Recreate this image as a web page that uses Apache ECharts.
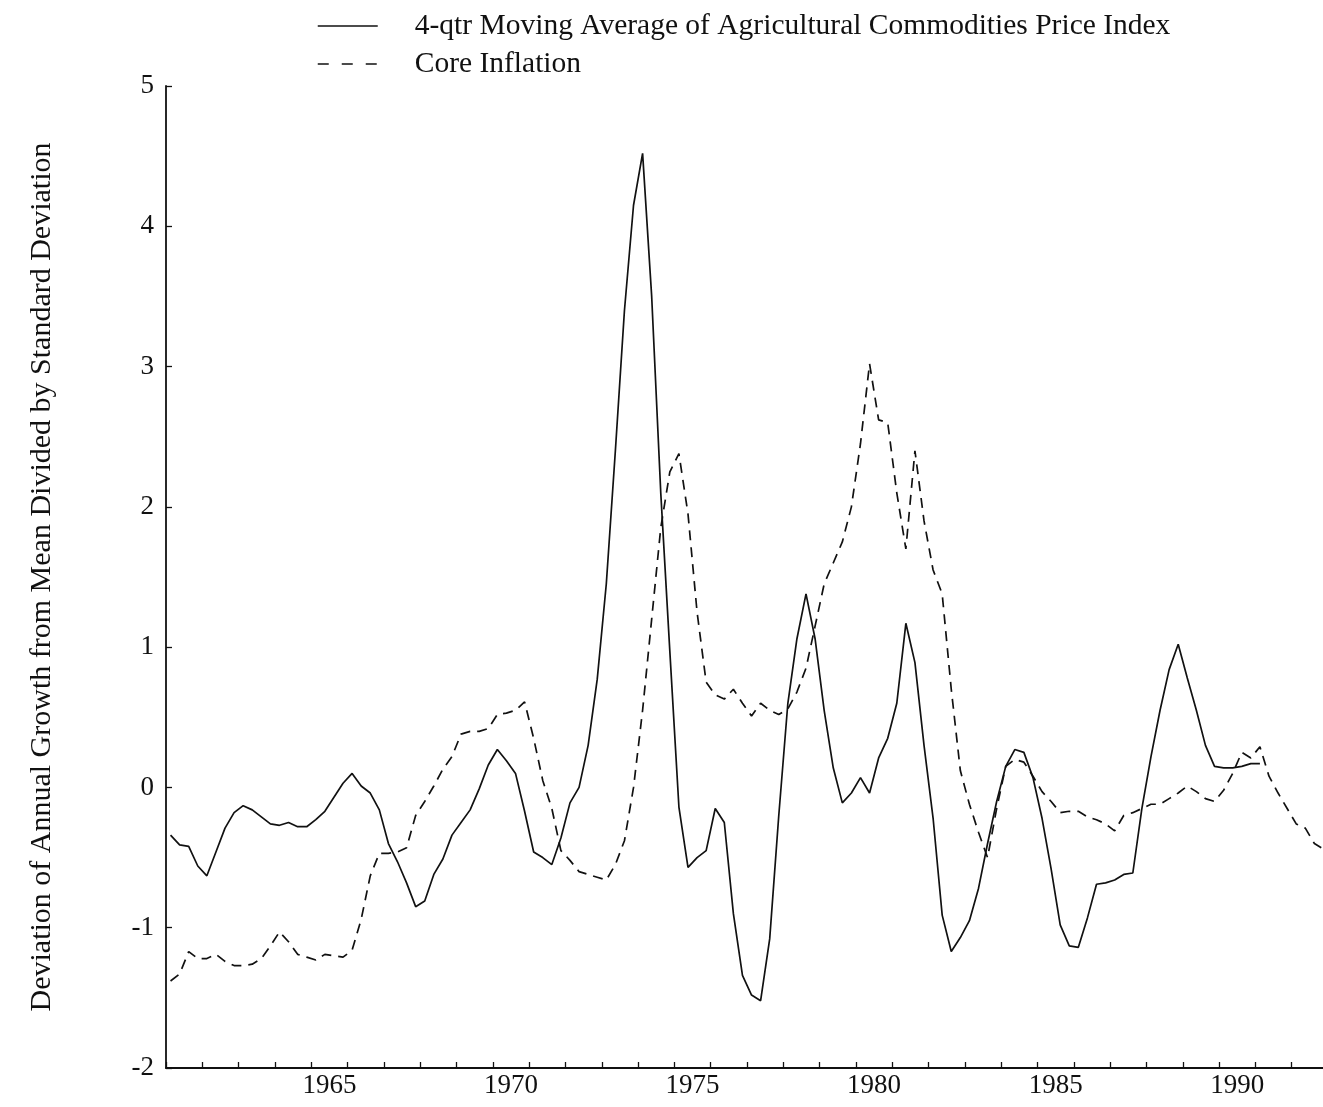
<!DOCTYPE html>
<html>
<head>
<meta charset="utf-8">
<script src="https://cdn.jsdelivr.net/npm/echarts@6/dist/echarts.min.js"></script>
<style>
  html, body { margin: 0; padding: 0; background: #ffffff; }
  #chart { width: 1323px; height: 1107px; }
</style>
</head>
<body>
<div id="chart"></div>
<script>
// Year bands along the horizontal axis (labels shown every five years)
const years = [1961, 1962, 1963, 1964, 1965, 1966, 1967, 1968, 1969, 1970,
  1971, 1972, 1973, 1974, 1975, 1976, 1977, 1978, 1979, 1980,
  1981, 1982, 1983, 1984, 1985, 1986, 1987, 1988, 1989, 1990, 1991, 1992];

// Quarterly observations start in 1961 Q1
const firstYear = 1961;

// 4-quarter moving average of agricultural commodities price index (standardized)
const agriMA = [
  -0.34, -0.41, -0.42, -0.56, -0.63, -0.46, -0.29, -0.18,
  -0.13, -0.16, -0.21, -0.26, -0.27, -0.25, -0.28, -0.28,
  -0.23, -0.17, -0.07, 0.03, 0.10, 0.01, -0.04, -0.16,
  -0.40, -0.53, -0.68, -0.85, -0.81, -0.62, -0.51, -0.34,
  -0.25, -0.16, -0.01, 0.16, 0.27, 0.19, 0.10, -0.17,
  -0.46, -0.50, -0.55, -0.36, -0.11, 0.00, 0.30, 0.77,
  1.45, 2.40, 3.40, 4.15, 4.52, 3.50, 2.10, 0.97,
  -0.14, -0.57, -0.50, -0.45, -0.15, -0.25, -0.90, -1.34,
  -1.48, -1.52, -1.08, -0.20, 0.60, 1.06, 1.38, 1.06,
  0.55, 0.14, -0.11, -0.04, 0.07, -0.04, 0.21, 0.35,
  0.60, 1.17, 0.89, 0.30, -0.22, -0.91, -1.17, -1.07,
  -0.95, -0.72, -0.40, -0.10, 0.15, 0.27, 0.25, 0.07,
  -0.22, -0.58, -0.98, -1.13, -1.14, -0.93, -0.69, -0.68,
  -0.66, -0.62, -0.61, -0.15, 0.22, 0.55, 0.84, 1.02,
  0.78, 0.55, 0.30, 0.15, 0.14, 0.14, 0.15, 0.17,
  0.17
];

// Core inflation (standardized)
const coreInflation = [
  -1.38, -1.33, -1.17, -1.22, -1.22, -1.19, -1.24, -1.27,
  -1.27, -1.26, -1.22, -1.13, -1.03, -1.10, -1.19, -1.21,
  -1.23, -1.19, -1.20, -1.21, -1.16, -0.94, -0.63, -0.47,
  -0.47, -0.46, -0.43, -0.20, -0.10, 0.01, 0.13, 0.22,
  0.38, 0.40, 0.40, 0.42, 0.52, 0.53, 0.55, 0.61,
  0.35, 0.05, -0.15, -0.45, -0.52, -0.60, -0.62, -0.64,
  -0.66, -0.55, -0.38, 0.00, 0.55, 1.20, 1.85, 2.25,
  2.38, 1.95, 1.25, 0.75, 0.66, 0.63, 0.70, 0.60,
  0.51, 0.60, 0.55, 0.52, 0.56, 0.68, 0.85, 1.15,
  1.45, 1.60, 1.75, 2.00, 2.45, 3.02, 2.62, 2.60,
  2.10, 1.70, 2.40, 1.90, 1.55, 1.38, 0.70, 0.12,
  -0.12, -0.32, -0.50, -0.15, 0.15, 0.20, 0.18, 0.08,
  -0.03, -0.10, -0.18, -0.17, -0.17, -0.21, -0.23, -0.26,
  -0.31, -0.20, -0.18, -0.15, -0.12, -0.12, -0.08, -0.04,
  0.01, -0.03, -0.08, -0.10, -0.02, 0.10, 0.25, 0.21,
  0.29, 0.08, -0.04, -0.15, -0.26, -0.29, -0.40, -0.44
];

const seriesNames = [
  '4-qtr Moving Average of Agricultural Commodities Price Index',
  'Core Inflation'
];
const yAxisTitle = 'Deviation of Annual Growth from Mean Divided by Standard Deviation';

// each quarter is placed at the middle of its quarter
const toQuarterPoints = values => values.map((v, i) => [firstYear + (i + 0.5) / 4, v]);

const FONT = '"Liberation Serif", "Times New Roman", serif';
const INK = '#111111';
const NO_MARK = { color: 'rgba(0,0,0,0)', borderColor: 'rgba(0,0,0,0)', borderWidth: 0, opacity: 0 };

const chart = echarts.init(document.getElementById('chart'), null, { renderer: 'canvas' });

chart.setOption({
  animation: false,
  backgroundColor: '#ffffff',
  textStyle: { fontFamily: FONT, color: INK },
  grid: {
    left: 166, right: -5, top: 86, bottom: 39,
    outerBoundsMode: 'none'
  },
  legend: {
    orient: 'vertical',
    left: 312,
    top: 6,
    itemWidth: 60,
    itemHeight: 14,
    itemGap: 8,
    selectedMode: false,
    itemStyle: NO_MARK,
    data: [
      { name: seriesNames[0], lineStyle: { type: 'solid', width: 1.5 } },
      { name: seriesNames[1], lineStyle: { type: [11, 13], width: 1.5 } }
    ],
    textStyle: { fontFamily: FONT, fontSize: 29.5, color: INK, padding: [0, 0, 0, 32] }
  },
  xAxis: [
    {
      type: 'category',
      data: years,
      boundaryGap: true,
      position: 'bottom',
      axisLine: { onZero: false, lineStyle: { color: INK, width: 1.8 } },
      axisTick: { show: true, inside: true, length: 6, interval: 0, lineStyle: { color: INK, width: 1.3 } },
      axisLabel: {
        interval: (idx, val) => Number(val) % 5 === 0,
        fontFamily: FONT, fontSize: 27, color: INK, margin: 4
      },
      splitLine: { show: false }
    },
    {
      type: 'value',
      min: firstYear,
      max: years[years.length - 1] + 1,
      show: false,
      axisLine: { onZero: false },
      splitLine: { show: false }
    }
  ],
  yAxis: {
    type: 'value',
    min: -2,
    max: 5,
    interval: 1,
    name: yAxisTitle,
    nameLocation: 'middle',
    nameRotate: 90,
    nameGap: 109,
    nameTextStyle: { fontFamily: FONT, fontSize: 30, color: INK },
    axisLine: { show: true, onZero: false, lineStyle: { color: INK, width: 1.8 } },
    axisTick: { show: true, inside: true, length: 6, lineStyle: { color: INK, width: 1.3 } },
    axisLabel: { fontFamily: FONT, fontSize: 27, color: INK, margin: 12 },
    splitLine: { show: false }
  },
  series: [
    {
      name: seriesNames[0],
      type: 'line',
      xAxisIndex: 1,
      data: toQuarterPoints(agriMA),
      showSymbol: false,
      symbol: 'none',
      lineStyle: { color: INK, width: 1.7, type: 'solid' },
      itemStyle: { color: INK }
    },
    {
      name: seriesNames[1],
      type: 'line',
      xAxisIndex: 1,
      data: toQuarterPoints(coreInflation),
      showSymbol: false,
      symbol: 'none',
      lineStyle: { color: INK, width: 1.7, type: [10, 7] },
      itemStyle: { color: INK }
    }
  ]
});
</script>
</body>
</html>
